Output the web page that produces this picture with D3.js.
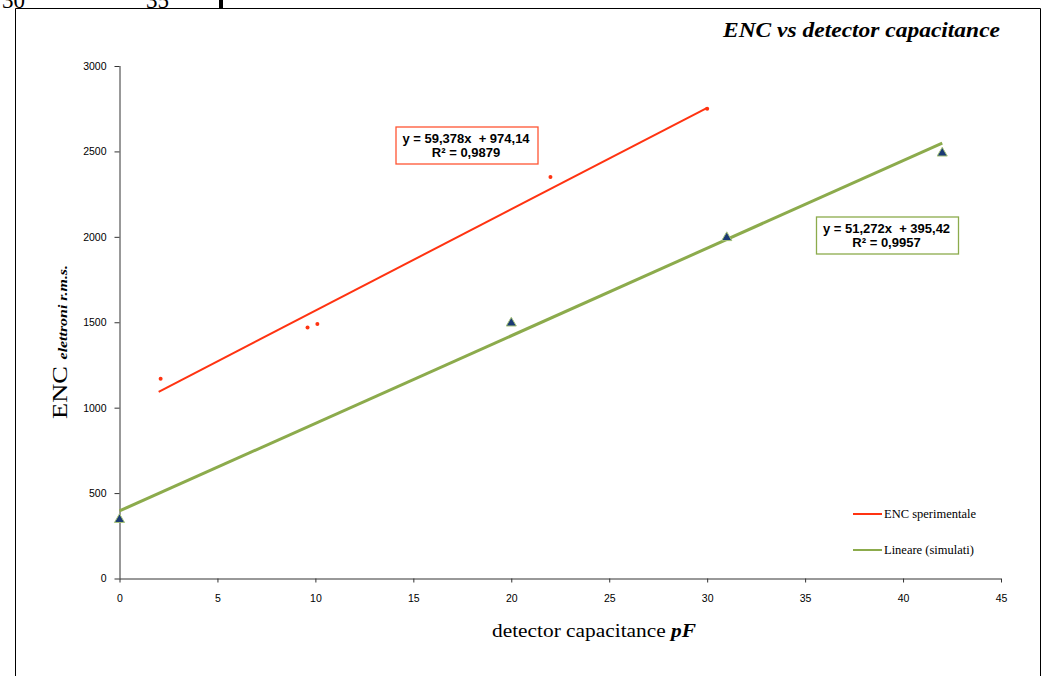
<!DOCTYPE html>
<html>
<head>
<meta charset="utf-8">
<script src="https://cdn.jsdelivr.net/npm/d3@7"></script>
<style>
  body { margin: 0; background: #fff; }
  svg { display: block; }
</style>
</head>
<body>
<svg id="chart"></svg>
<script>
// measured data
var expCap = [2.1, 9.6, 10.1, 22, 30];
var expEnc = [1170, 1470, 1490, 2350, 2750];
var simCap = [0, 20, 31, 42];
var simEnc = [345, 1495, 1995, 2490];

// linear trend lines: [sperimentale, simulati]
var fitSlope = [59.378, 51.272];
var fitIntercept = [974.14, 395.42];
var fitR2 = ["0,9879", "0,9957"];

var xTicks = [0, 5, 10, 15, 20, 25, 30, 35, 40, 45];
var yTicks = [0, 500, 1000, 1500, 2000, 2500, 3000];
var legendNames = ["ENC sperimentale", "Lineare (simulati)"];

var red = "#ff3311", green = "#8cab4c", navy = "#1b3a74";

var svg = d3.select("#chart")
    .attr("width", 1045)
    .attr("height", 676);

var x = d3.scaleLinear().domain([0, 45]).range([119.5, 1001]);
var y = d3.scaleLinear().domain([0, 3000]).range([578.5, 66]);

// leftovers of the page above the chart
svg.append("text").text("30").attr("x", 2).attr("y", 8)
    .style("font-family", "Liberation Serif").style("font-size", "23px");
svg.append("text").text("35").attr("x", 146).attr("y", 8)
    .style("font-family", "Liberation Serif").style("font-size", "23px");
svg.append("rect").attr("x", 219).attr("y", 0).attr("width", 4).attr("height", 8).attr("fill", "#000");

// chart frame
svg.append("path")
    .attr("d", "M15.5,676 V8.5 H1040.5 V676")
    .attr("fill", "none")
    .attr("stroke", "#000");

// axes
var yAxis = svg.append("g")
    .attr("transform", "translate(" + x(0) + ",0)")
    .call(d3.axisLeft(y).tickValues(yTicks).tickSize(5).tickPadding(8).tickFormat(d3.format("d")));
var xAxis = svg.append("g")
    .attr("transform", "translate(0," + y(0) + ")")
    .call(d3.axisBottom(x).tickValues(xTicks).tickSize(4).tickPadding(12));
svg.selectAll(".domain").attr("stroke", "#333");
svg.selectAll(".tick line").attr("stroke", "#333");
svg.selectAll(".tick text")
    .style("font-family", "Liberation Sans, Arial")
    .style("font-size", "10.5px")
    .attr("fill", "#000");
yAxis.select(".domain").attr("d", "M0.5," + y(3000) + "V" + y(0));
xAxis.select(".domain").attr("d", "M" + x(0) + ",0.5H" + x(45));

// trend lines
function fitLine(i, xs) {
    var x0 = d3.min(xs), x1 = d3.max(xs);
    return [[x0, fitSlope[i] * x0 + fitIntercept[i]], [x1, fitSlope[i] * x1 + fitIntercept[i]]];
}
var line = d3.line().x(function(d) { return x(d[0]); }).y(function(d) { return y(d[1]); });

svg.append("path")
    .datum(fitLine(0, [2, 30]))
    .attr("d", line)
    .attr("fill", "none")
    .attr("stroke", red)
    .attr("stroke-width", 2);

svg.append("path")
    .datum(fitLine(1, simCap))
    .attr("d", line)
    .attr("fill", "none")
    .attr("stroke", green)
    .attr("stroke-width", 3);

// points
svg.selectAll(".exp")
    .data(d3.zip(expCap, expEnc))
    .enter().append("circle")
    .attr("class", "exp")
    .attr("cx", function(d) { return x(d[0]); })
    .attr("cy", function(d) { return y(d[1]); })
    .attr("r", 2)
    .attr("fill", red);

var tri = d3.symbol().type(d3.symbolTriangle).size(44);
svg.selectAll(".sim")
    .data(d3.zip(simCap, simEnc))
    .enter().append("path")
    .attr("class", "sim")
    .attr("d", tri)
    .attr("transform", function(d) { return "translate(" + x(d[0]) + "," + y(d[1]) + ")"; })
    .attr("fill", navy)
    .attr("stroke", "#a8c47a")
    .attr("stroke-width", 1);

// equation boxes
function fmt(v) { return String(v).replace(".", ","); }
var boxes = [
    {i: 0, x: 396, y: 127, color: "#ff5533"},
    {i: 1, x: 816.5, y: 217, color: green}
];
boxes.forEach(function(b) {
    var g = svg.append("g").attr("transform", "translate(" + b.x + "," + b.y + ")");
    g.append("rect")
        .attr("width", 142)
        .attr("height", 37)
        .attr("fill", "#fff")
        .attr("stroke", b.color)
        .attr("stroke-width", 1.3);
    g.append("text")
        .text("y = " + fmt(fitSlope[b.i]) + "x  + " + fmt(fitIntercept[b.i]))
        .attr("x", 70).attr("y", 16)
        .attr("text-anchor", "middle")
        .style("white-space", "pre")
        .style("font-family", "Liberation Sans, Arial")
        .style("font-weight", "bold")
        .style("font-size", "13px");
    g.append("text")
        .text("R\u00b2 = " + fitR2[b.i])
        .attr("x", 70).attr("y", 30)
        .attr("text-anchor", "middle")
        .style("font-family", "Liberation Sans, Arial")
        .style("font-weight", "bold")
        .style("font-size", "13px");
});

// legend
var legend = svg.append("g").attr("transform", "translate(853,514)");
legendNames.forEach(function(name, i) {
    legend.append("line")
        .attr("x1", 0).attr("x2", 29)
        .attr("y1", i * 36).attr("y2", i * 36)
        .attr("stroke", i === 0 ? red : green)
        .attr("stroke-width", 2);
    legend.append("text")
        .text(name)
        .attr("x", 31).attr("y", i * 36 + 4)
        .style("font-family", "Liberation Serif")
        .style("font-size", "12.5px");
});

// titles
svg.append("text")
    .text("ENC vs detector capacitance")
    .attr("x", 1000).attr("y", 37)
    .attr("text-anchor", "end")
    .attr("textLength", 277)
    .attr("lengthAdjust", "spacingAndGlyphs")
    .style("font-family", "Liberation Serif")
    .style("font-weight", "bold")
    .style("font-style", "italic")
    .style("font-size", "20px");

var xt = svg.append("text")
    .attr("x", 594).attr("y", 637)
    .attr("text-anchor", "middle")
    .attr("textLength", 204)
    .attr("lengthAdjust", "spacingAndGlyphs")
    .style("font-family", "Liberation Serif")
    .style("font-size", "19px");
xt.append("tspan").text("detector capacitance ");
xt.append("tspan").text("pF").style("font-style", "italic").style("font-weight", "bold");

var yt = svg.append("text")
    .attr("transform", "translate(67,342) rotate(-90)")
    .attr("text-anchor", "middle")
    .attr("textLength", 154)
    .attr("lengthAdjust", "spacingAndGlyphs")
    .style("font-family", "Liberation Serif")
    .style("font-size", "20px");
yt.append("tspan").text("ENC ");
yt.append("tspan").text("elettroni r.m.s.")
    .style("font-size", "12px")
    .style("font-weight", "bold")
    .style("font-style", "italic");
</script>
</body>
</html>
